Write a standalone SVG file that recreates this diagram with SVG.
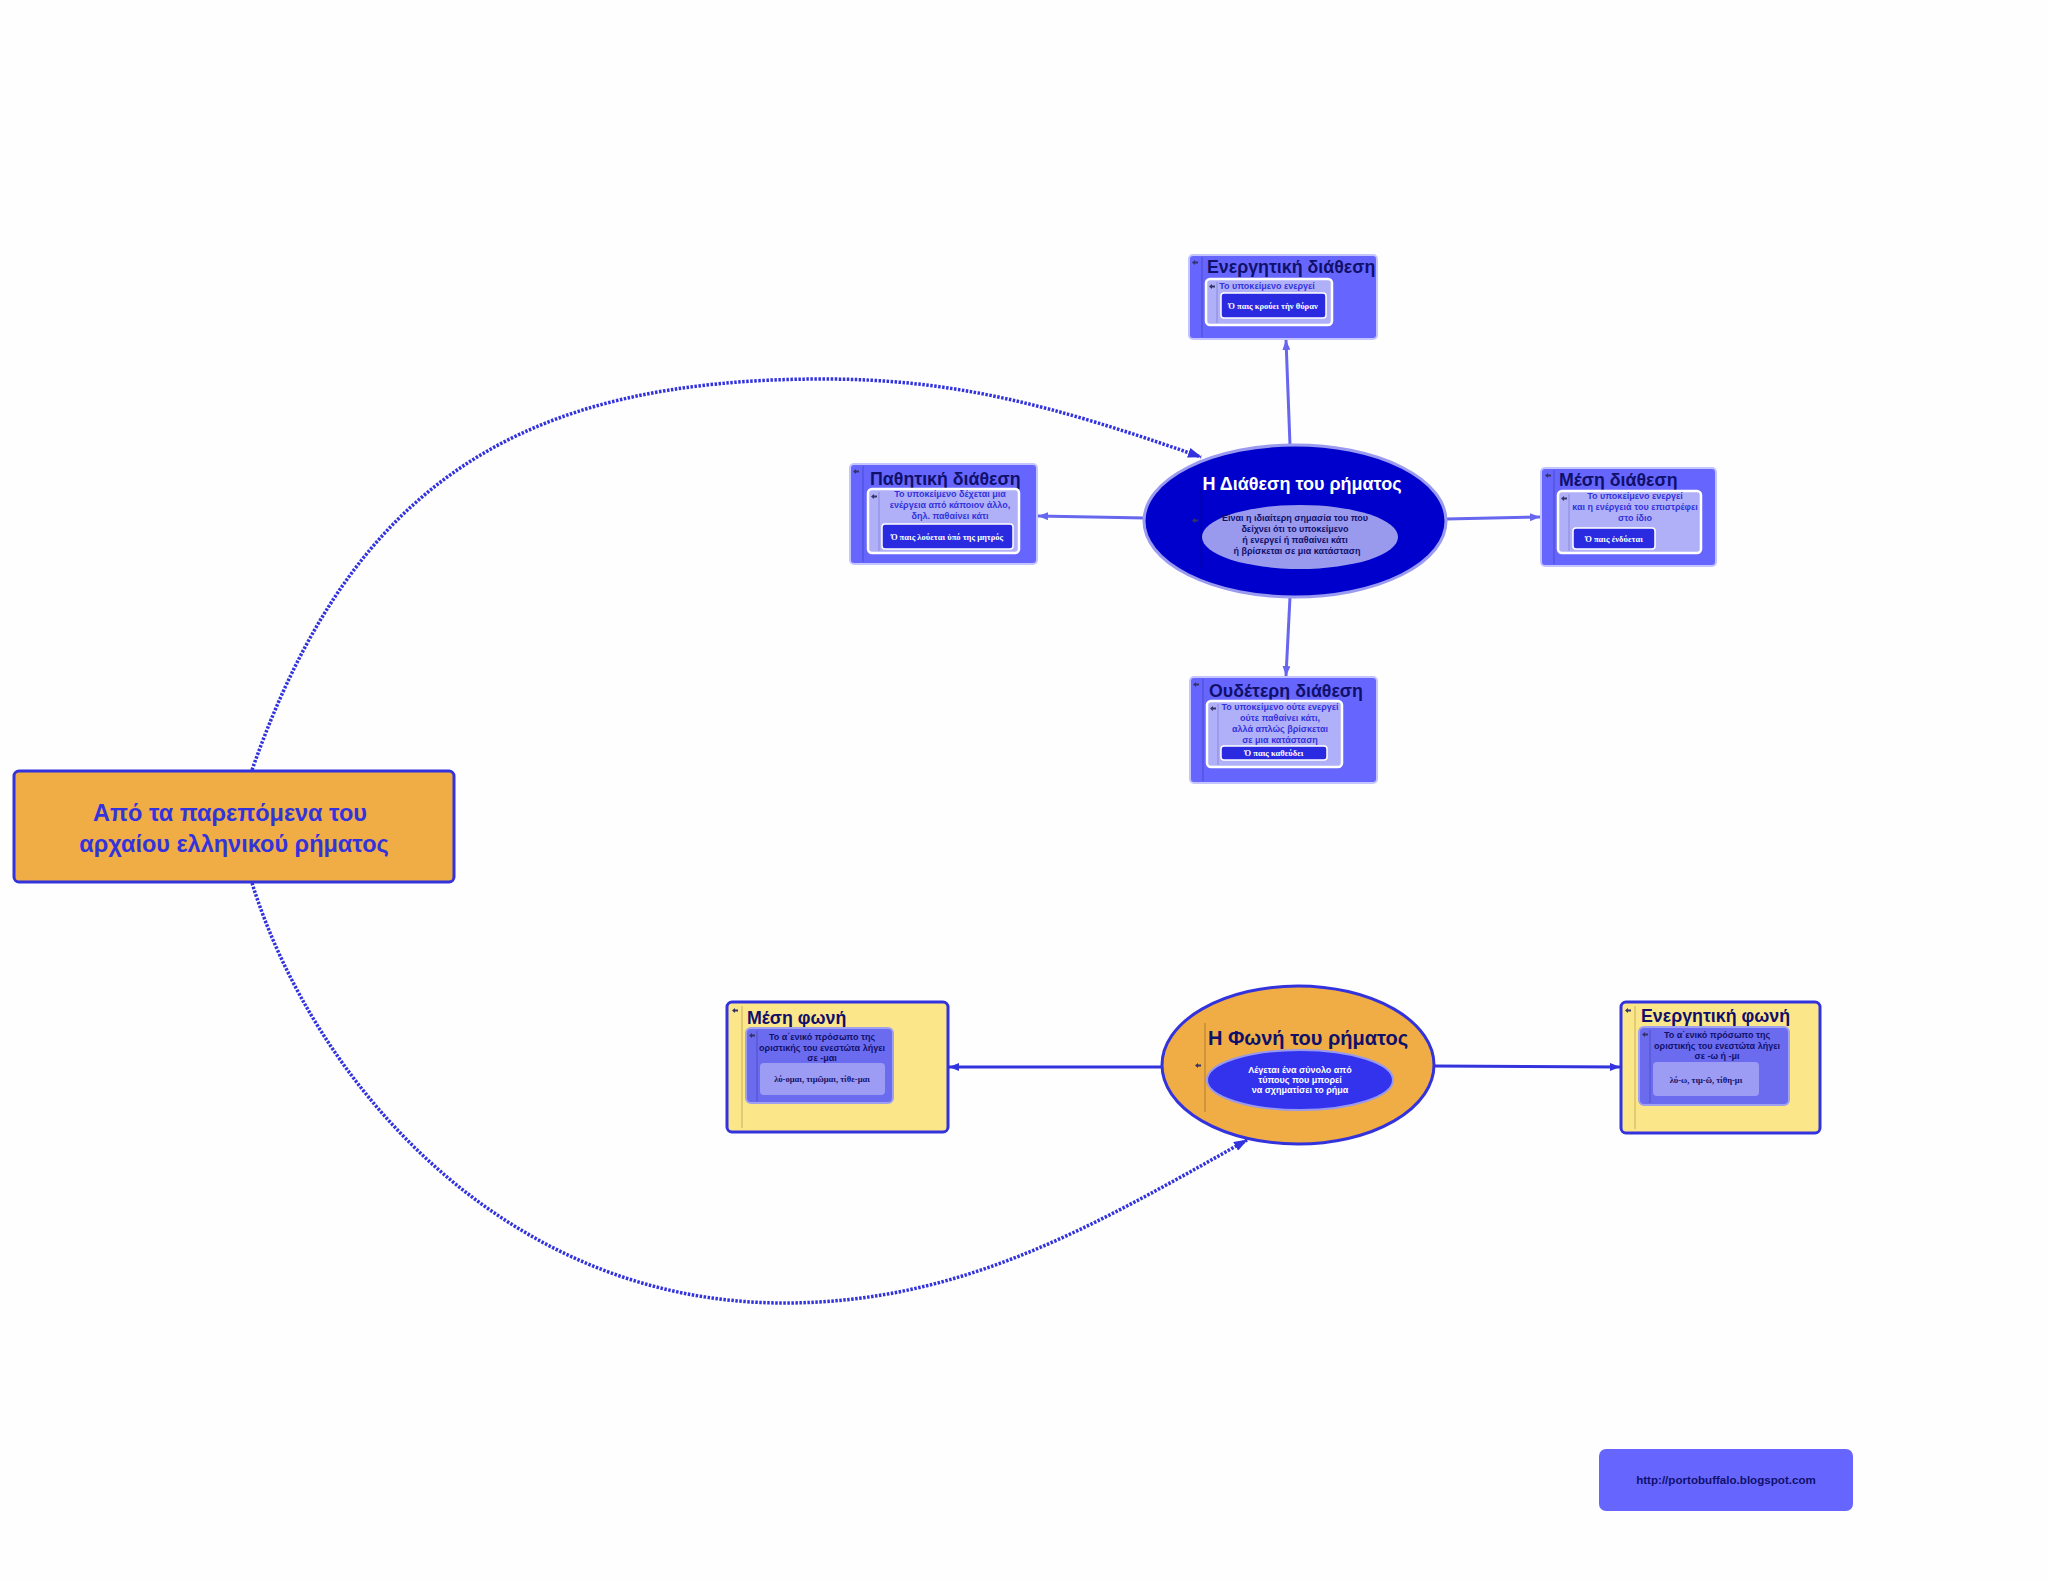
<svg xmlns="http://www.w3.org/2000/svg" width="2048" height="1582" viewBox="0 0 2048 1582">
<defs>
<style>
.sans{font-family:"Liberation Sans",Arial,sans-serif;font-weight:bold}
.serif{font-family:"Liberation Serif","Times New Roman",serif;font-weight:bold}
.title{font-size:17.8px;fill:#10106a}
.small{font-size:9px;text-anchor:middle}
.ex{font-size:8.5px;text-anchor:middle}
.dbox{fill:#6666ff;stroke:#c4c4ff;stroke-width:2}
.dinner{fill:#b0b0f8;stroke:#ffffff;stroke-width:2.5}
.ddark{fill:#2a2ae0;stroke:#ffffff;stroke-width:1.5}
.ybox{fill:#fce68a;stroke:#3333dd;stroke-width:3}
.yinner{fill:#6b6bf0;stroke:#a0a0f0;stroke-width:2}
.ylight{fill:#9c9cf5}
.conn{stroke:#6666ee;stroke-width:3;fill:none}
.conn2{stroke:#3333dd;stroke-width:3;fill:none}
.dot{stroke:#3333dd;stroke-width:3.5;fill:none;stroke-dasharray:2.5 1.5}
</style>
<marker id="ah" markerUnits="userSpaceOnUse" markerWidth="10" markerHeight="8" refX="10" refY="4" orient="auto"><path d="M0,0 L10,4 L0,8 z" fill="#6666ee"/></marker>
<marker id="ah2" markerUnits="userSpaceOnUse" markerWidth="10" markerHeight="8" refX="10" refY="4" orient="auto"><path d="M0,0 L10,4 L0,8 z" fill="#3333dd"/></marker>
<marker id="ahd" markerUnits="userSpaceOnUse" markerWidth="14" markerHeight="10" refX="13" refY="5" orient="auto"><path d="M0,0 L14,5 L0,10 z" fill="#3333dd"/></marker>
<symbol id="ico" viewBox="0 0 6 5" overflow="visible"><rect x="3" y="1.5" width="3" height="2" fill="#333366"/><path d="M0,2.5 L3,0 L3,5 z" fill="#333366"/></symbol>
</defs>
<rect width="2048" height="1582" fill="#fefefe"/>

<g id="connectors">
<line class="conn" x1="1290" y1="445" x2="1286" y2="340" marker-end="url(#ah)"/>
<line class="conn" x1="1145" y1="518" x2="1038" y2="516" marker-end="url(#ah)"/>
<line class="conn" x1="1446" y1="519" x2="1540" y2="517" marker-end="url(#ah)"/>
<line class="conn" x1="1290" y1="597" x2="1286" y2="676" marker-end="url(#ah)"/>
<line class="conn2" x1="1162" y1="1067" x2="949" y2="1067" marker-end="url(#ah2)"/>
<line class="conn2" x1="1434" y1="1066" x2="1620" y2="1067" marker-end="url(#ah2)"/>
<path class="dot" d="M252,770 C353,481 523,379 823,379 C953,379 1051,404.5 1201,457" marker-end="url(#ahd)"/>
<path class="dot" d="M252,883 C314,1082 504,1303 784,1303 C964,1303 1097,1224 1247,1140" marker-end="url(#ahd)"/>
</g>

<g id="root">
<rect x="14" y="771" width="440" height="111" rx="5" fill="#f0ad45" stroke="#3333dd" stroke-width="3"/>
<text class="sans" x="230" y="821" font-size="23.5" fill="#3333dd" text-anchor="middle">Από τα παρεπόμενα του</text>
<text class="sans" x="234" y="852" font-size="23.5" fill="#3333dd" text-anchor="middle">αρχαίου ελληνικού ρήματος</text>
</g>

<g id="diathesi">
<ellipse cx="1295" cy="521" rx="151" ry="76" fill="#0000cc" stroke="#9a9af0" stroke-width="3"/>
<line x1="1201" y1="488" x2="1201" y2="568" stroke="#0000a0" stroke-width="1"/>
<use href="#ico" x="1192" y="518" width="6" height="5"/>
<text class="sans" x="1302" y="490" font-size="18" fill="#ffffff" text-anchor="middle">Η Διάθεση του ρήματος</text>
<ellipse cx="1300" cy="537" rx="98" ry="32" fill="#9999ee"/>
<text class="sans small" x="1295" y="521" fill="#10106a">Είναι η ιδιαίτερη σημασία του που</text>
<text class="sans small" x="1295" y="532" fill="#10106a">δείχνει ότι το υποκείμενο</text>
<text class="sans small" x="1295" y="543" fill="#10106a">ή ενεργεί ή παθαίνει κάτι</text>
<text class="sans small" x="1297" y="554" fill="#10106a">ή βρίσκεται σε μια κατάσταση</text>
</g>

<g id="energitiki-diathesi">
<rect class="dbox" x="1189" y="255" width="188" height="84" rx="4"/>
<line x1="1202" y1="257" x2="1202" y2="337" stroke="#4a4ad0" stroke-width="1"/>
<use href="#ico" x="1192" y="260" width="6" height="5"/>
<text class="sans title" x="1207" y="273">Ενεργητική διάθεση</text>
<rect class="dinner" x="1206" y="279" width="126" height="46" rx="4"/>
<line x1="1217" y1="282" x2="1217" y2="323" stroke="#8888dd" stroke-width="1"/>
<use href="#ico" x="1209" y="284" width="6" height="5"/>
<text class="sans small" x="1267" y="289" fill="#3333dd">Το υποκείμενο ενεργεί</text>
<rect class="ddark" x="1221" y="293" width="105" height="25" rx="3"/>
<text class="serif ex" x="1273" y="309" fill="#ffffff">Ό παις κρούει τὴν θύραν</text>
</g>

<g id="pathitiki-diathesi">
<rect class="dbox" x="850" y="464" width="187" height="100" rx="4"/>
<line x1="863" y1="466" x2="863" y2="562" stroke="#4a4ad0" stroke-width="1"/>
<use href="#ico" x="853" y="469" width="6" height="5"/>
<text class="sans title" x="870" y="485">Παθητική διάθεση</text>
<rect class="dinner" x="868" y="489" width="151" height="64" rx="4"/>
<line x1="879" y1="492" x2="879" y2="551" stroke="#8888dd" stroke-width="1"/>
<use href="#ico" x="871" y="494" width="6" height="5"/>
<text class="sans small" x="950" y="497" fill="#3333dd">Το υποκείμενο δέχεται μια</text>
<text class="sans small" x="950" y="508" fill="#3333dd">ενέργεια από κάποιον άλλο,</text>
<text class="sans small" x="950" y="519" fill="#3333dd">δηλ. παθαίνει κάτι</text>
<rect class="ddark" x="882" y="524" width="131" height="25" rx="3"/>
<text class="serif ex" x="947" y="540" fill="#ffffff">Ό παις λούεται ὑπό της μητρός</text>
</g>

<g id="mesi-diathesi">
<rect class="dbox" x="1541" y="468" width="175" height="98" rx="4"/>
<line x1="1554" y1="470" x2="1554" y2="564" stroke="#4a4ad0" stroke-width="1"/>
<use href="#ico" x="1545" y="473" width="6" height="5"/>
<text class="sans title" x="1559" y="486">Μέση διάθεση</text>
<rect class="dinner" x="1558" y="491" width="143" height="62" rx="4"/>
<line x1="1569" y1="494" x2="1569" y2="551" stroke="#8888dd" stroke-width="1"/>
<use href="#ico" x="1561" y="496" width="6" height="5"/>
<text class="sans small" x="1635" y="499" fill="#3333dd">Το υποκείμενο ενεργεί</text>
<text class="sans small" x="1635" y="510" fill="#3333dd">και η ενέργειά του επιστρέφει</text>
<text class="sans small" x="1635" y="521" fill="#3333dd">στο ίδιο</text>
<rect class="ddark" x="1573" y="528" width="82" height="21" rx="3"/>
<text class="serif ex" x="1614" y="542" fill="#ffffff">Ό παις ἐνδύεται</text>
</g>

<g id="oudeteri-diathesi">
<rect class="dbox" x="1190" y="677" width="187" height="106" rx="4"/>
<line x1="1203" y1="679" x2="1203" y2="781" stroke="#4a4ad0" stroke-width="1"/>
<use href="#ico" x="1193" y="682" width="6" height="5"/>
<text class="sans title" x="1209" y="697">Ουδέτερη διάθεση</text>
<rect class="dinner" x="1207" y="701" width="135" height="66" rx="4"/>
<line x1="1218" y1="704" x2="1218" y2="765" stroke="#8888dd" stroke-width="1"/>
<use href="#ico" x="1210" y="706" width="6" height="5"/>
<text class="sans small" x="1280" y="710" fill="#3333dd">Το υποκείμενο ούτε ενεργεί</text>
<text class="sans small" x="1280" y="721" fill="#3333dd">ούτε παθαίνει κάτι,</text>
<text class="sans small" x="1280" y="732" fill="#3333dd">αλλά απλώς βρίσκεται</text>
<text class="sans small" x="1280" y="743" fill="#3333dd">σε μια κατάσταση</text>
<rect class="ddark" x="1221" y="746" width="106" height="14" rx="3"/>
<text class="serif ex" x="1274" y="756" fill="#ffffff">Ό παις καθεύδει</text>
</g>

<g id="foni">
<ellipse cx="1298" cy="1065" rx="136" ry="79" fill="#f0ad45" stroke="#3333dd" stroke-width="3"/>
<line x1="1205" y1="1023" x2="1205" y2="1112" stroke="#b07a30" stroke-width="1"/>
<use href="#ico" x="1195" y="1063" width="6" height="5"/>
<text class="sans" x="1308" y="1045" font-size="20" fill="#10106a" text-anchor="middle">Η Φωνή του ρήματος</text>
<ellipse cx="1300" cy="1080" rx="93" ry="30" fill="#3333ee" stroke="#9999ee" stroke-width="2"/>
<text class="sans small" x="1300" y="1073" fill="#ffffff">Λέγεται ένα σύνολο από</text>
<text class="sans small" x="1300" y="1083" fill="#ffffff">τύπους που μπορεί</text>
<text class="sans small" x="1300" y="1093" fill="#ffffff">να σχηματίσει το ρήμα</text>
</g>

<g id="mesi-foni">
<rect class="ybox" x="727" y="1002" width="221" height="130" rx="5"/>
<line x1="742" y1="1006" x2="742" y2="1128" stroke="#c8b060" stroke-width="1"/>
<use href="#ico" x="732" y="1008" width="6" height="5"/>
<text class="sans title" x="747" y="1024">Μέση φωνή</text>
<rect class="yinner" x="746" y="1028" width="147" height="75" rx="5"/>
<line x1="757" y1="1031" x2="757" y2="1101" stroke="#5050c8" stroke-width="1"/>
<use href="#ico" x="749" y="1033" width="6" height="5"/>
<text class="sans small" x="822" y="1040" fill="#10106a">Το α΄ενικό πρόσωπο της</text>
<text class="sans small" x="822" y="1051" fill="#10106a">οριστικής του ενεστώτα λήγει</text>
<text class="sans small" x="822" y="1061" fill="#10106a">σε -μαι</text>
<rect class="ylight" x="760" y="1063" width="125" height="32" rx="4"/>
<text class="serif ex" x="822" y="1082" fill="#10106a">λύ-ομαι, τιμῶμαι, τίθε-μαι</text>
</g>

<g id="energitiki-foni">
<rect class="ybox" x="1621" y="1002" width="199" height="131" rx="5"/>
<line x1="1635" y1="1006" x2="1635" y2="1129" stroke="#c8b060" stroke-width="1"/>
<use href="#ico" x="1625" y="1008" width="6" height="5"/>
<text class="sans title" x="1641" y="1022">Ενεργητική φωνή</text>
<rect class="yinner" x="1639" y="1027" width="150" height="78" rx="5"/>
<line x1="1650" y1="1030" x2="1650" y2="1103" stroke="#5050c8" stroke-width="1"/>
<use href="#ico" x="1642" y="1032" width="6" height="5"/>
<text class="sans small" x="1717" y="1038" fill="#10106a">Το α΄ενικό πρόσωπο της</text>
<text class="sans small" x="1717" y="1049" fill="#10106a">οριστικής του ενεστώτα λήγει</text>
<text class="sans small" x="1717" y="1059" fill="#10106a">σε -ω ή -μι</text>
<rect class="ylight" x="1653" y="1062" width="106" height="34" rx="4"/>
<text class="serif ex" x="1706" y="1083" fill="#10106a">λύ-ω, τιμ-ῶ, τίθη-μι</text>
</g>

<g id="url">
<rect x="1599" y="1449" width="254" height="62" rx="7" fill="#6666ff"/>
<text class="sans" x="1726" y="1484" font-size="11.6" fill="#10106a" text-anchor="middle">http://portobuffalo.blogspot.com</text>
</g>
</svg>
